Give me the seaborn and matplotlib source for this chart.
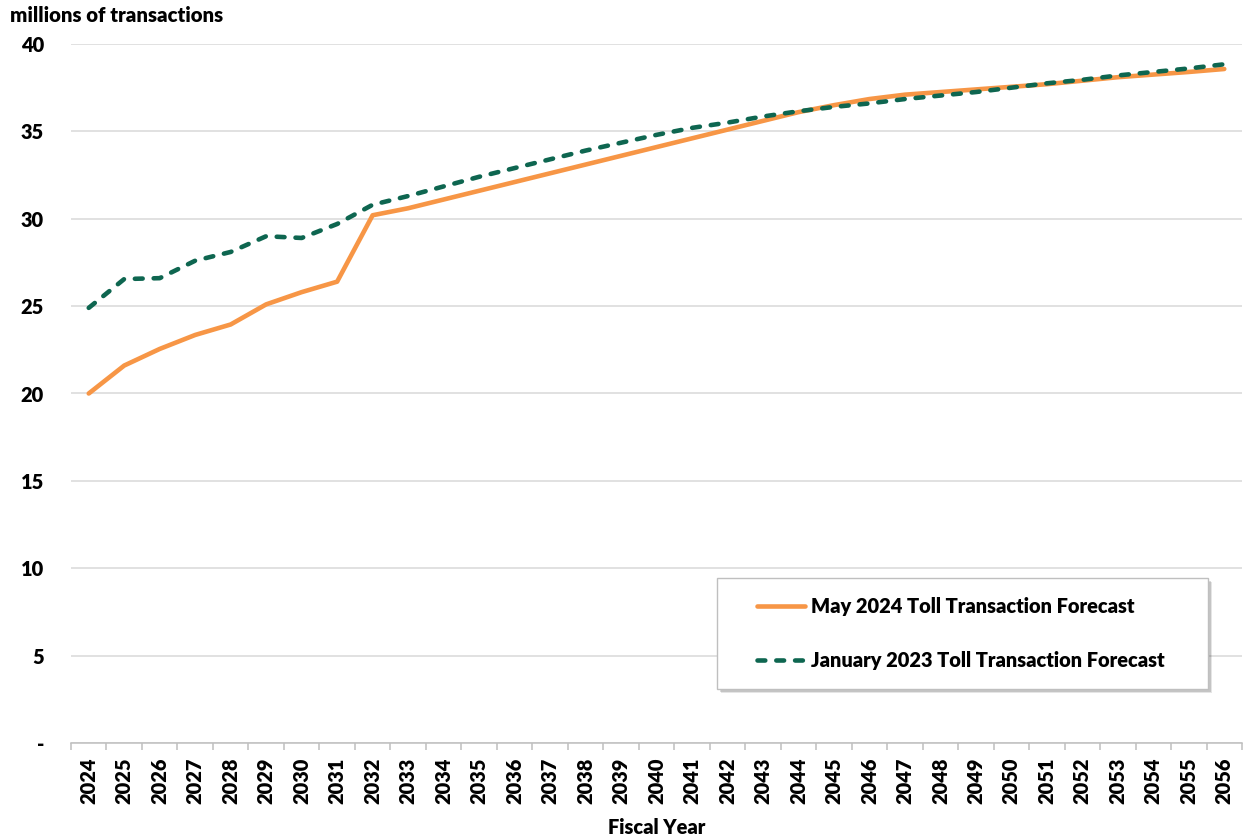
import matplotlib
matplotlib.use("Agg")
import matplotlib.pyplot as plt
from matplotlib.patches import Rectangle
import numpy as np
import pandas as pd
import seaborn as sns

# Fiscal years on the category axis
years = list(range(2024, 2057))

# Toll transactions, millions
may_2024 = [20.0, 21.6, 22.55, 23.35, 23.95, 25.1, 25.8, 26.4, 30.2,
            30.6, 31.1, 31.6, 32.1, 32.6, 33.1, 33.6, 34.1, 34.6, 35.1,
            35.6, 36.1, 36.5, 36.85, 37.1, 37.25, 37.4, 37.55, 37.7, 37.9,
            38.1, 38.25, 38.4, 38.57]
jan_2023 = [24.9, 26.55, 26.6, 27.6, 28.1, 29.0, 28.9, 29.7, 30.8,
            31.3, 31.85, 32.4, 32.9, 33.4, 33.9, 34.35, 34.8, 35.2, 35.5,
            35.85, 36.15, 36.4, 36.6, 36.85, 37.05, 37.25, 37.5, 37.75, 37.95,
            38.2, 38.4, 38.6, 38.84]

series_names = ["May 2024 Toll Transaction Forecast",
                "January 2023 Toll Transaction Forecast"]
y_ticks = [0, 5, 10, 15, 20, 25, 30, 35, 40]
y_tick_labels = ["-", "5", "10", "15", "20", "25", "30", "35", "40"]

ORANGE = "#F79646"
GREEN = "#0E6650"
GRID = "#D9D9D9"
AXIS = "#BFBFBF"
FS = 14.4
FW = 800

sns.set_theme(style="white")
plt.rcParams["font.family"] = ["Lato", "DejaVu Sans"]
plt.rcParams["font.weight"] = FW
plt.rcParams["text.color"] = "black"

W, H = 1244, 838
fig = plt.figure(figsize=(W / 100, H / 100), dpi=100)
ax = fig.add_axes([71 / W, 1 - 743 / H, (1242 - 71) / W, (743 - 44) / H])

df_may = pd.DataFrame({"year": years, "value": may_2024})
df_jan = pd.DataFrame({"year": years, "value": jan_2023})

sns.lineplot(data=df_may, x="year", y="value", ax=ax, color=ORANGE,
             linewidth=3.3, label=series_names[0], solid_capstyle="round",
             zorder=3)
sns.lineplot(data=df_jan, x="year", y="value", ax=ax, color=GREEN,
             linewidth=3.3, label=series_names[1], linestyle=(0, (1.7, 2.4)),
             dash_capstyle="round", zorder=4)

# Axes limits and grid
ax.set_xlim(years[0] - 0.5, years[-1] + 0.5)
ax.set_ylim(0, 40)
ax.set_yticks(y_ticks)
ax.set_yticklabels(y_tick_labels, fontsize=FS, fontweight=FW, color="black")
ax.yaxis.grid(True, color=GRID, linewidth=1.1)
ax.xaxis.grid(False)
ax.tick_params(axis="y", length=0, pad=19.5)

# Category boundaries carry the tick marks, centres carry the labels
bounds = [y - 0.5 for y in years] + [years[-1] + 0.5]
ax.set_xticks(bounds)
ax.set_xticklabels([""] * len(bounds))
ax.set_xticks(years, minor=True)
ax.set_xticklabels([str(y) for y in years], minor=True, rotation=90,
                   fontsize=FS, fontweight=FW, color="black")
ax.tick_params(axis="x", which="major", length=5, width=1.1, color=AXIS,
               direction="out", bottom=True)
ax.tick_params(axis="x", which="minor", length=0, pad=10.5)

for side in ["top", "right", "left"]:
    ax.spines[side].set_visible(False)
ax.spines["bottom"].set_color(AXIS)
ax.spines["bottom"].set_linewidth(1.1)

ax.set_xlabel("Fiscal Year", fontsize=FS, fontweight=FW, labelpad=10, color="black")
ax.set_ylabel("")
fig.text(10 / W, 1 - 16 / H, "millions of transactions", fontsize=FS + 0.3,
         fontweight=FW, ha="left", va="center")

# Legend box with a soft drop shadow
bx0, bx1 = (717 - 71) / 1171, (1208 - 71) / 1171
by0, by1 = (743 - 689) / 699, (743 - 578) / 699
for k, a in enumerate([0.18, 0.14, 0.10]):
    off = (k + 1) * 1.3
    ax.add_patch(Rectangle((bx0 + off / 1171, by0 - off / 699), bx1 - bx0, by1 - by0,
                           transform=ax.transAxes, facecolor="black", alpha=a,
                           edgecolor="none", zorder=5))
ax.add_patch(Rectangle((bx0, by0), bx1 - bx0, by1 - by0, transform=ax.transAxes,
                       facecolor="white", edgecolor="#BFBFBF", linewidth=1.0,
                       zorder=6))
leg = ax.legend(loc="center left", bbox_to_anchor=((757 - 71) / 1171, (743 - 633.5) / 699),
                frameon=False, fontsize=FS, handlelength=2.4, handletextpad=0.3,
                labelspacing=1.75, borderpad=0, borderaxespad=0)
for t in leg.get_texts():
    t.set_fontweight(FW)
    t.set_color("black")
leg.set_zorder(7)

fig.savefig("out.png", dpi=100, facecolor="white")
